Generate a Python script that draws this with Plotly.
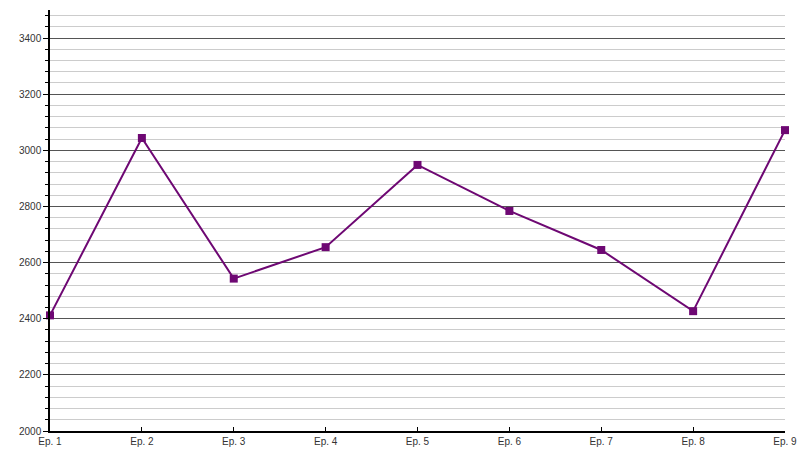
import plotly.graph_objects as go

categories = ["Ep. 1", "Ep. 2", "Ep. 3", "Ep. 4", "Ep. 5", "Ep. 6", "Ep. 7", "Ep. 8", "Ep. 9"]
values = [2412, 3044, 2543, 2655, 2948, 2784, 2645, 2427, 3072]
y_tickvals = [2000, 2200, 2400, 2600, 2800, 3000, 3200, 3400]

fig = go.Figure()
fig.add_trace(go.Scatter(
    x=categories, y=values, mode="lines+markers",
    line=dict(color="#6e0873", width=2),
    marker=dict(symbol="square", size=8, color="#6e0873"),
    cliponaxis=False, showlegend=False,
))

fig.update_layout(
    width=800, height=450,
    margin=dict(l=50, r=15, t=10, b=19),
    paper_bgcolor="white", plot_bgcolor="white",
    font=dict(family="Liberation Sans, Arial, sans-serif", size=10, color="#333"),
    xaxis=dict(
        type="category", range=[0, 8], showgrid=False, automargin=False,
        showline=True, linecolor="black", linewidth=1.5,
        ticks="inside", ticklen=4, tickcolor="black",
        tickfont=dict(size=10), zeroline=False,
    ),
    yaxis=dict(
        range=[2000, 3500], tickvals=y_tickvals, automargin=False,
        showgrid=True, gridcolor="#555555", gridwidth=1,
        showline=True, linecolor="black", linewidth=1.5,
        ticks="outside", ticklen=5, tickcolor="black",
        tickfont=dict(size=10), zeroline=False,
        minor=dict(dtick=40, showgrid=True, gridcolor="#cccccc", gridwidth=1,
                   ticks="outside", ticklen=3, tickcolor="black"),
    ),
)

fig.write_html(
    "out.html",
    config={"displayModeBar": False},
    post_script="document.body.style.margin='0';document.body.style.overflow='hidden';",
)
